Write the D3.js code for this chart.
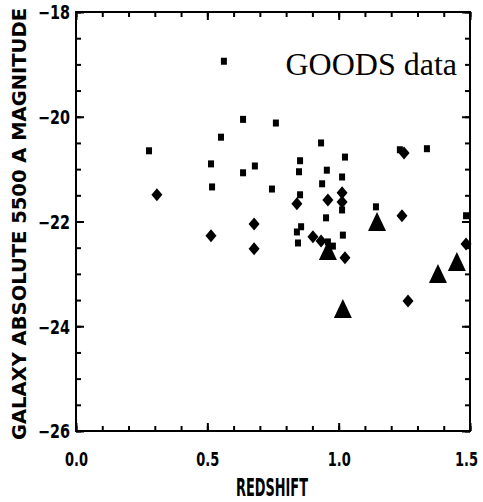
<!DOCTYPE html>
<html><head><meta charset="utf-8">
<script src="https://cdn.jsdelivr.net/npm/d3@7"></script>
<style>body{margin:0;background:#fff}svg{display:block}</style>
</head><body>
<script>
// Data (redshift, absolute magnitude)
const squaresZ = [0.563,0.636,0.761,0.552,0.278,0.933,1.024,1.233,1.336,0.514,0.681,0.853,0.955,0.636,0.849,1.013,0.746,0.937,0.518,0.853,1.013,0.952,1.142,1.485,0.857,0.841,0.845,0.959,0.978,1.016];
const squaresM = [-18.94,-20.05,-20.12,-20.39,-20.65,-20.50,-20.77,-20.63,-20.61,-20.90,-20.94,-20.84,-21.02,-21.07,-21.05,-21.15,-21.38,-21.28,-21.34,-21.49,-21.78,-21.93,-21.72,-21.89,-22.10,-22.20,-22.41,-22.39,-22.47,-22.26];
const diamondsZ = [0.308,0.514,0.678,0.678,0.841,0.959,1.013,1.013,0.902,0.933,1.024,1.241,1.249,1.485,1.264];
const diamondsM = [-21.49,-22.27,-22.05,-22.52,-21.66,-21.59,-21.45,-21.63,-22.29,-22.37,-22.69,-21.89,-20.69,-22.43,-23.52];
const trianglesZ = [1.146,0.959,1.016,1.378,1.450];
const trianglesM = [-22.03,-22.58,-23.69,-23.02,-22.79];
const xMajor = [0,0.5,1.0,1.5];
const xMinor = d3.range(0,1.51,0.1).map(v=>+v.toFixed(1));
const yMajor = [-18,-20,-22,-24,-26];
const yMinor = d3.range(-26,-17.9,0.5);
const xTitle = "REDSHIFT";
const yTitle = "GALAXY ABSOLUTE 5500 A MAGNITUDE";
const note = "GOODS data";

const W=483,H=502;
const L=76,R=470,T=12,B=431;
const x=d3.scaleLinear().domain([0,1.5]).range([L,R]);
const y=d3.scaleLinear().domain([-26,-18]).range([B,T]);
const svg=d3.select("body").append("svg").attr("width",W).attr("height",H);
const font="'DejaVu Sans Condensed','DejaVu Sans',sans-serif";

function styleAxis(g){g.select(".domain").remove();g.selectAll("line").attr("stroke","#000").attr("stroke-width",2);}
// minor ticks
svg.append("g").attr("transform",`translate(0,${B})`).call(d3.axisBottom(x).tickValues(xMinor).tickSize(-5).tickFormat("")).call(styleAxis);
svg.append("g").attr("transform",`translate(0,${T})`).call(d3.axisTop(x).tickValues(xMinor).tickSize(-5).tickFormat("")).call(styleAxis);
svg.append("g").attr("transform",`translate(${L},0)`).call(d3.axisLeft(y).tickValues(yMinor).tickSize(-5).tickFormat("")).call(styleAxis);
svg.append("g").attr("transform",`translate(${R},0)`).call(d3.axisRight(y).tickValues(yMinor).tickSize(-5).tickFormat("")).call(styleAxis);
// major ticks
const xb=svg.append("g").attr("transform",`translate(0,${B})`).call(d3.axisBottom(x).tickValues(xMajor).tickSize(-8).tickPadding(24).tickFormat(d3.format(".1f"))).call(styleAxis);
svg.append("g").attr("transform",`translate(0,${T})`).call(d3.axisTop(x).tickValues(xMajor).tickSize(-8).tickFormat("")).call(styleAxis);
const yl=svg.append("g").attr("transform",`translate(${L},0)`).call(d3.axisLeft(y).tickValues(yMajor).tickSize(-8).tickPadding(14).tickFormat(d=>"\u2212"+Math.abs(d))).call(styleAxis);
svg.append("g").attr("transform",`translate(${R},0)`).call(d3.axisRight(y).tickValues(yMajor).tickSize(-8).tickFormat("")).call(styleAxis);
xb.selectAll("text").attr("font-family",font).attr("font-weight","bold").attr("font-size",19).attr("fill","#000")
  .attr("dy","0.32em").attr("y",0).attr("x",0)
  .attr("transform",d=>`translate(${d===1.5?-4:0},29) scale(0.76,1)`);
yl.selectAll("text").attr("font-family",font).attr("font-weight","bold").attr("font-size",19).attr("fill","#000")
  .attr("textLength",32).attr("lengthAdjust","spacingAndGlyphs").attr("x",-6).attr("dy","0.36em");
// frame
svg.append("rect").attr("x",L).attr("y",T).attr("width",R-L).attr("height",B-T).attr("fill","none").attr("stroke","#000").attr("stroke-width",2);

// titles
svg.append("text").attr("x",272).attr("y",496).attr("text-anchor","middle").attr("font-family",font).attr("font-weight","bold")
  .attr("font-size",24).attr("textLength",72).attr("lengthAdjust","spacingAndGlyphs").text(xTitle);
svg.append("text").attr("transform","translate(26,224) rotate(-90)").attr("text-anchor","middle").attr("font-family",font).attr("font-weight","bold")
  .attr("font-size",19).attr("textLength",432).attr("lengthAdjust","spacingAndGlyphs").text(yTitle);
svg.append("text").attr("x",457).attr("y",75).attr("text-anchor","end").attr("font-family","'Liberation Serif','Times New Roman',serif")
  .attr("font-size",32).text(note);

// markers
const sq=d3.zip(squaresZ,squaresM), di=d3.zip(diamondsZ,diamondsM), tr=d3.zip(trianglesZ,trianglesM);
svg.append("g").selectAll("rect").data(sq).join("rect")
  .attr("x",d=>x(d[0])-3).attr("y",d=>y(d[1])-3.5).attr("width",6).attr("height",7).attr("fill","#000");
svg.append("g").selectAll("path").data(di).join("path")
  .attr("d",d=>`M${x(d[0])},${y(d[1])-6.5}L${x(d[0])+5.5},${y(d[1])}L${x(d[0])},${y(d[1])+6.5}L${x(d[0])-5.5},${y(d[1])}Z`).attr("fill","#000");
svg.append("g").selectAll("path").data(tr).join("path")
  .attr("d",d=>`M${x(d[0])},${y(d[1])-11}L${x(d[0])+9},${y(d[1])+8}L${x(d[0])-9},${y(d[1])+8}Z`).attr("fill","#000");
</script>
</body></html>
